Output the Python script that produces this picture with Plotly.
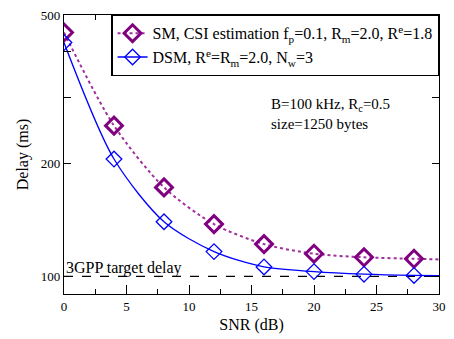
import plotly.graph_objects as go

snr_markers = [0, 4, 8, 12, 16, 20, 24, 28]
snr_line = [0, 4, 8, 12, 16, 20, 24, 28, 30]
sm_delay = [449, 253, 173, 138, 122, 115, 112.5, 111.5, 111]
dsm_delay = [422, 206, 140, 116.5, 106, 103, 101.4, 100.6, 100.4]
target_delay = 100
x_ticks = [0, 5, 10, 15, 20, 25, 30]
y_ticks = [100, 200, 500]
y_minor_ticks = [300, 400]

SM_NAME = "SM, CSI estimation f<sub>p</sub>=0.1, R<sub>m</sub>=2.0, R<sup>e</sup>=1.8"
DSM_NAME = "DSM, R<sup>e</sup>=R<sub>m</sub>=2.0, N<sub>w</sub>=3"

PURPLE = "#800080"
BLUE = "#0000ff"
FONT = "Liberation Serif, Times New Roman, DejaVu Serif, serif"

fig = go.Figure()

# target line
fig.add_trace(go.Scatter(x=[0, 30], y=[target_delay, target_delay], mode="lines",
                         line=dict(color="black", width=1.3, dash="dash"),
                         showlegend=False, hoverinfo="skip"))

n = len(snr_markers)
# SM
fig.add_trace(go.Scatter(x=snr_line, y=sm_delay, mode="lines", line=dict(color="#a0309c", width=2, dash="dot", shape="spline", smoothing=0.8),
                         showlegend=False, hoverinfo="skip"))
fig.add_trace(go.Scatter(x=snr_markers, y=sm_delay[:n], mode="markers",
                         marker=dict(symbol="diamond-open", size=13, color=PURPLE, line=dict(width=3, color=PURPLE)),
                         showlegend=False))
# DSM
fig.add_trace(go.Scatter(x=snr_line, y=dsm_delay, mode="lines", line=dict(color=BLUE, width=1.3, shape="spline", smoothing=0.8),
                         showlegend=False, hoverinfo="skip"))
fig.add_trace(go.Scatter(x=snr_markers, y=dsm_delay[:n], mode="markers",
                         marker=dict(symbol="diamond-open", size=12, color=BLUE, line=dict(width=1.3, color=BLUE)),
                         showlegend=False))

# legend entries
fig.add_trace(go.Scatter(x=[None], y=[None], mode="lines+markers", name=SM_NAME,
                         line=dict(color="#a0309c", width=2, dash="dot"),
                         marker=dict(symbol="diamond-open", size=13, color=PURPLE, line=dict(width=3, color=PURPLE))))
fig.add_trace(go.Scatter(x=[None], y=[None], mode="lines+markers", name=DSM_NAME,
                         line=dict(color=BLUE, width=1.3),
                         marker=dict(symbol="diamond-open", size=12, color=BLUE, line=dict(width=1.3, color=BLUE))))

fig.add_annotation(x=0, y=2.0, xref="x", yref="y", text="3GPP target delay", showarrow=False,
                   xanchor="left", yanchor="bottom", yshift=-3, xshift=0,
                   font=dict(family=FONT, size=16, color="black"))
fig.add_annotation(x=0.547, y=0.677, xref="paper", yref="paper",
                   text="B=100 kHz, R<sub>c</sub>=0.5", showarrow=False,
                   xanchor="left", yanchor="middle", align="left",
                   font=dict(family=FONT, size=15, color="black"))
fig.add_annotation(x=0.547, y=0.608, xref="paper", yref="paper",
                   text="size=1250 bytes", showarrow=False,
                   xanchor="left", yanchor="middle", align="left",
                   font=dict(family=FONT, size=15, color="black"))

axis_common = dict(showline=True, linecolor="black", linewidth=1.3, mirror="allticks",
                   ticks="inside", tickcolor="black", tickwidth=1, showgrid=False, zeroline=False,
                   tickfont=dict(family=FONT, size=13, color="black"))

fig.update_xaxes(range=[0, 30], tickvals=x_ticks, ticklen=9,
                 minor=dict(dtick=2.5, tick0=0, ticks="inside", ticklen=5, tickcolor="black"),
                 title=dict(text="SNR (dB)", font=dict(family=FONT, size=16, color="black"), standoff=6),
                 **axis_common)
fig.update_yaxes(type="log", range=[1.953, 2.699], tickvals=y_ticks, ticklen=7,
                 minor=dict(tickvals=y_minor_ticks, ticks="inside", ticklen=7, tickcolor="black"),
                 title=dict(text="Delay (ms)", font=dict(family=FONT, size=16, color="black"), standoff=8),
                 **axis_common)

fig.update_layout(width=454, height=339, margin=dict(l=64, r=8, t=13, b=41),
                  plot_bgcolor="white", paper_bgcolor="white",
                  legend=dict(x=0.126, y=1.0, xanchor="left", yanchor="top",
                              bgcolor="white", bordercolor="black", borderwidth=1.3,
                              font=dict(family=FONT, size=16, color="black"),
                              itemwidth=30, tracegroupgap=0, traceorder="normal"),
                  showlegend=True)

fig.write_html("out.html")
